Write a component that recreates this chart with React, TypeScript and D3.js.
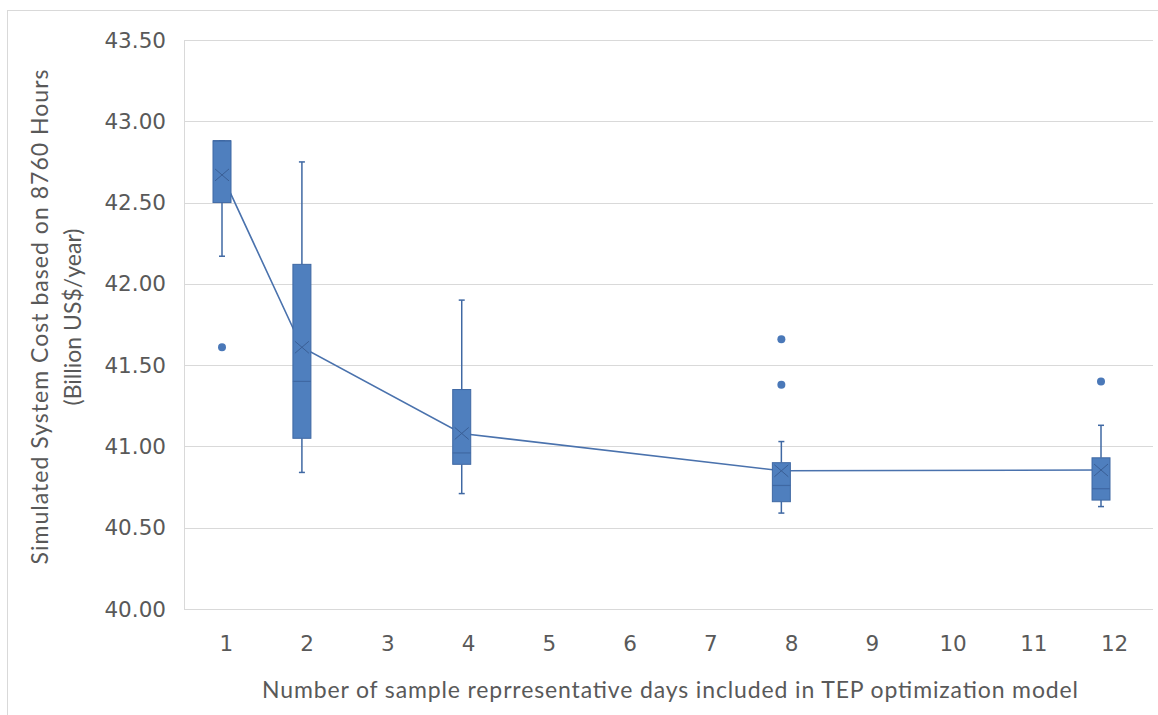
import React from "react";
import * as d3 from "d3";

const categories = ["1", "2", "3", "4", "5", "6", "7", "8", "9", "10", "11", "12"];
const yTicks = [40, 40.5, 41, 41.5, 42, 42.5, 43, 43.5];
const boxCategories = [1, 2, 4, 8, 12];
const whiskerLow = [42.17, 40.84, 40.71, 40.59, 40.63];
const q1 = [42.5, 41.05, 40.89, 40.66, 40.67];
const median = [42.88, 41.4, 40.96, 40.76, 40.74];
const q3 = [42.88, 42.12, 41.35, 40.9, 40.93];
const whiskerHigh = [42.88, 42.75, 41.9, 41.03, 41.13];
const means = [42.67, 41.61, 41.08, 40.85, 40.855];
const outliers = [[41.61], [], [], [41.66, 41.38], [41.4]];

const W = 1158;
const H = 715;
const left = 184;
const right = 1153;
const top = 40;
const bottom = 609;

export default function App() {
  const xBand = d3.scaleBand<string>().domain(categories).range([left, right]).padding(0);
  const xBox = d3.scaleLinear().domain([1, 12]).range([222, 1101]);
  const y = d3.scaleLinear().domain([40, 43.5]).range([bottom, top]);
  const boxW = 18;
  const capW = 6;
  const fill = "#4f7fbe";
  const stroke = "#3f68a3";
  const lineGen = d3
    .line<number>()
    .x((_, i) => xBox(boxCategories[i]))
    .y((d) => y(d));
  const textColor = "#595959";
  const font = "Lato, 'Open Sans', sans-serif";
  const tickFont = "'DejaVu Sans', Verdana, sans-serif";

  return (
    <svg
      width={W}
      height={H}
      style={{ position: "absolute", left: 0, top: 0, background: "#fff" }}
    >
      <rect x={7.5} y={10.5} width={W} height={H} fill="#fff" stroke="#d9d9d9" />
      {yTicks.map((t) => (
        <g key={t}>
          <line x1={left} x2={right} y1={Math.round(y(t)) + 0.5} y2={Math.round(y(t)) + 0.5} stroke="#d9d9d9" />
          <text
            x={166}
            y={y(t)}
            dy="0.35em"
            textAnchor="end"
            fill={textColor}
            fontFamily={tickFont}
            fontSize={21.5}
          >
            {t.toFixed(2)}
          </text>
        </g>
      ))}
      <line x1={left + 0.5} x2={left + 0.5} y1={top} y2={bottom} stroke="#d9d9d9" />
      {categories.map((c) => (
        <text
          key={c}
          x={(xBand(c) as number) + xBand.bandwidth() / 2 + 2}
          y={651}
          textAnchor="middle"
          fill={textColor}
          fontFamily={tickFont}
          fontSize={21.5}
        >
          {c}
        </text>
      ))}
      <path d={lineGen(means) || ""} fill="none" stroke="#4a72ad" strokeWidth={1.6} />
      {boxCategories.map((c, i) => {
        const cx = xBox(c);
        return (
          <g key={c}>
            <line x1={cx} x2={cx} y1={y(whiskerHigh[i])} y2={y(q3[i])} stroke={stroke} strokeWidth={1.5} />
            <line x1={cx} x2={cx} y1={y(q1[i])} y2={y(whiskerLow[i])} stroke={stroke} strokeWidth={1.5} />
            <line x1={cx - capW / 2} x2={cx + capW / 2} y1={y(whiskerHigh[i])} y2={y(whiskerHigh[i])} stroke={stroke} strokeWidth={1.5} />
            <line x1={cx - capW / 2} x2={cx + capW / 2} y1={y(whiskerLow[i])} y2={y(whiskerLow[i])} stroke={stroke} strokeWidth={1.5} />
            <rect
              x={cx - boxW / 2}
              y={y(q3[i])}
              width={boxW}
              height={y(q1[i]) - y(q3[i])}
              fill={fill}
              stroke={stroke}
              strokeWidth={1}
            />
            <line x1={cx - boxW / 2} x2={cx + boxW / 2} y1={y(median[i])} y2={y(median[i])} stroke={stroke} strokeWidth={1.2} />
            <g stroke="#3a5f96" strokeWidth={1}>
              <line x1={cx - 7} x2={cx + 7} y1={y(means[i]) - 6} y2={y(means[i]) + 6} />
              <line x1={cx - 7} x2={cx + 7} y1={y(means[i]) + 6} y2={y(means[i]) - 6} />
            </g>
            {outliers[i].map((o, j) => (
              <circle key={j} cx={cx} cy={y(o)} r={4} fill="#4a78b8" />
            ))}
          </g>
        );
      })}
      <text
        transform={`translate(48, 317) rotate(-90)`}
        textAnchor="middle"
        fill={textColor}
        fontFamily={font}
        fontSize={23}
        textLength={495}
        lengthAdjust="spacing"
      >
        Simulated System Cost based on 8760 Hours
      </text>
      <text
        transform={`translate(81, 317) rotate(-90)`}
        textAnchor="middle"
        fill={textColor}
        fontFamily={font}
        fontSize={23}
        textLength={177}
        lengthAdjust="spacing"
      >
        (Billion US$/year)
      </text>
      <text
        x={670}
        y={698}
        textAnchor="middle"
        fill={textColor}
        fontFamily={font}
        fontSize={23}
        textLength={816}
        lengthAdjust="spacing"
      >
        Number of sample reprresentative days included in TEP optimization model
      </text>
    </svg>
  );
}
